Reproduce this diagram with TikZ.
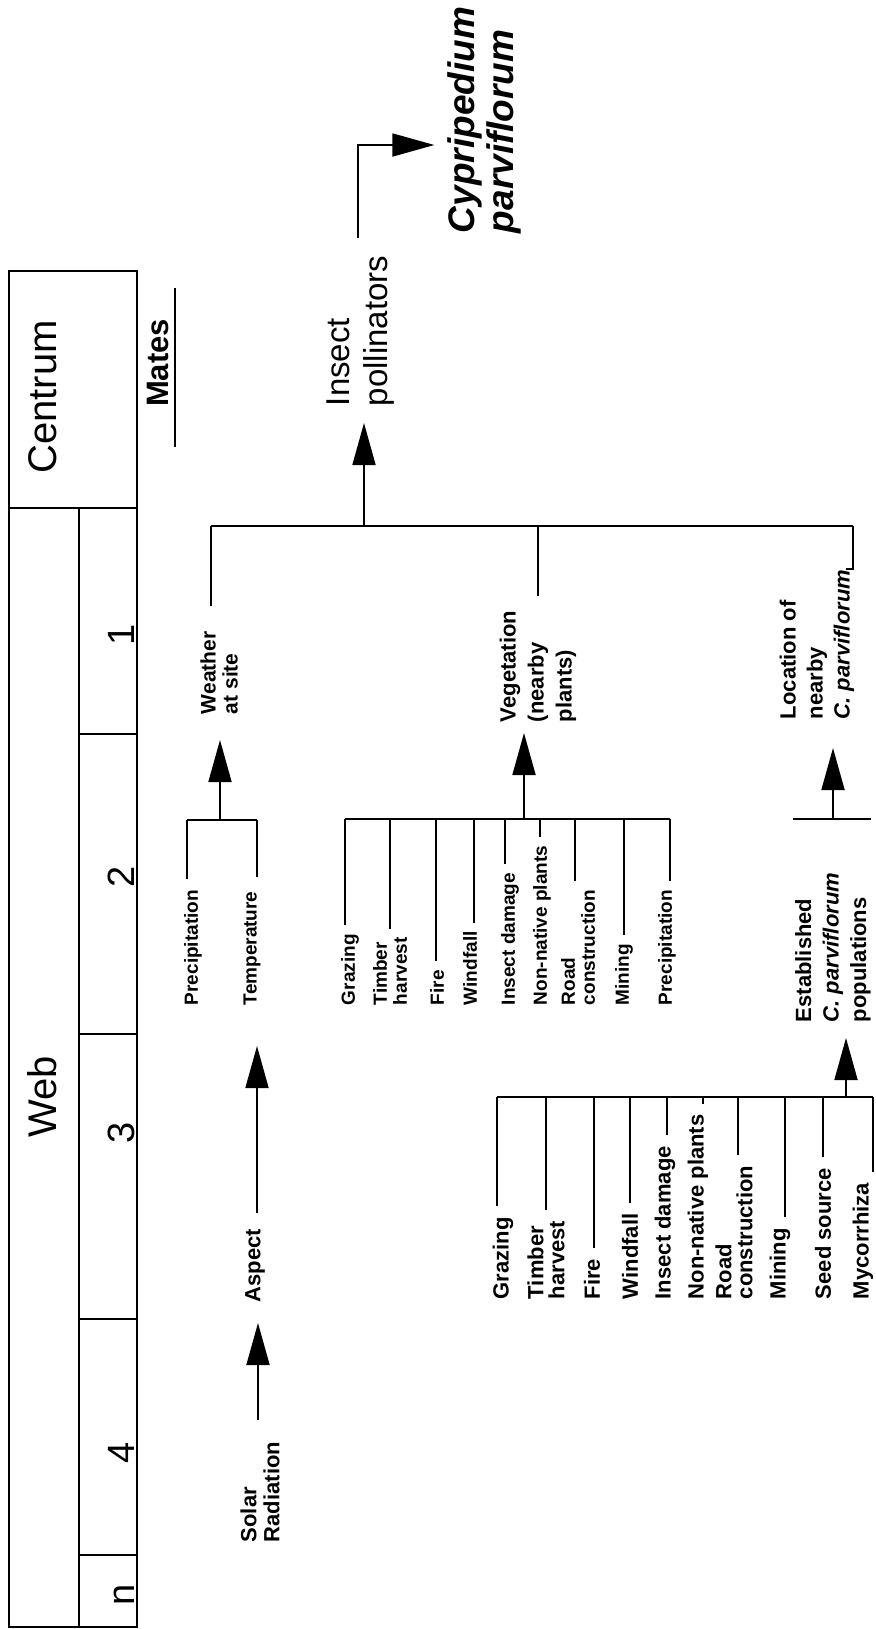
\documentclass[tikz,border=0pt]{standalone}
\usepackage{fontspec}
\setmainfont{Liberation Sans}
\usetikzlibrary{arrows.meta}

\tikzset{
  rot/.style={rotate=90, inner sep=0pt},
  lbl/.style={rot, anchor=west, align=left, font=\bfseries\fontsize{11}{13.5}\selectfont},
  leaf/.style={lbl, font=\bfseries\fontsize{9.5}{10}\selectfont},
  bigleaf/.style={lbl, font=\bfseries\fontsize{11}{10.5}\selectfont},
  scalelbl/.style={rot, anchor=base, font=\fontsize{20}{24}\selectfont},
  feeds/.style={-{Triangle[length=21pt,width=11.5pt]}},
}

\begin{document}
\begin{tikzpicture}[x=0.5pt, y=-0.5pt, line width=0.9pt]
  \useasboundingbox (0,0) rectangle (875,1629);

  % scale of the web
  \draw (9,271) rectangle (137,1627);
  \draw (9,508) -- (137,508);
  \draw (79,508) -- (79,1627);
  \foreach \y in {734,1034,1319,1555}
    \draw (79,\y) -- (137,\y);
  \node[scalelbl] (centrum) at (56,397) {Centrum};
  \node[scalelbl] (web) at (56,1097) {Web};
  \foreach \y/\cellno [count=\i] in {635/1,877/2,1133/3,1453/4,1595/n}
    \node[scalelbl, font=\fontsize{19}{23}\selectfont] (cell\i) at (134,\y) {\cellno};
  \node[scalelbl, font=\bfseries\fontsize{15.5}{18}\selectfont] (mates) at (168,363) {Mates};
  \draw (175,288) -- (175,447);

  % centrum: pollinators -> orchid
  \node[rot, anchor=west, align=left, font=\fontsize{16.5}{19}\selectfont] (insect) at (361,407) {Insect\\pollinators};
  \node[rot, anchor=west, align=left, font=\bfseries\itshape\fontsize{18.5}{19.5}\selectfont] (cyp) at (484,234) {Cypripedium\\parviflorum};
  \draw[feeds, shorten <=8.5pt, shorten >=6pt] (358,0 |- insect.east) |- (cyp.north |- 0,145);

  \coordinate (topbar) at (0,526);
  \draw (211,526) -- (853,526);
  \draw[feeds, shorten >=8pt] (364,0 |- topbar) -- (364,0 |- insect.west);

  % web 1
  \node[lbl, font=\bfseries\fontsize{10.5}{11}\selectfont] (weather) at (219,715) {Weather\\at site};
  \node[lbl, font=\bfseries\fontsize{11}{14}\selectfont] (veg) at (538,723) {Vegetation\\(nearby\\plants)};
  \node[lbl] (loc) at (817,720) {Location of\\nearby\\\textit{C. parviflorum}};
  \draw[shorten >=12.5pt] (211,0 |- topbar) -- (211,0 |- weather.east);
  \draw[shorten >=7pt] (538,0 |- topbar) -- (538,0 |- veg.east);
  \draw (853,0 |- topbar) -- (853,0 |- loc.east) -- ++(-7,0);

  % web 2: weather
  \coordinate (wbar) at (0,820);
  \draw (187,820) -- (257,820);
  \draw[feeds, shorten >=12.5pt] (220,0 |- wbar) -- (220,0 |- weather.west);
  \node[leaf] (precip) at (193,1006) {Precipitation};
  \node[leaf] (temp) at (252,1006) {Temperature};
  \draw[shorten >=5pt] (187,0 |- wbar) -- (187,0 |- precip.east);
  \draw[shorten >=7pt] (257,0 |- wbar) -- (257,0 |- temp.east);

  % web 3 and 4
  \node[lbl] (aspect) at (255,1303) {Aspect};
  \node[lbl, font=\bfseries\fontsize{11}{11.5}\selectfont] (solar) at (260,1543) {Solar\\Radiation};
  \draw[feeds, shorten <=7.5pt, shorten >=20pt] (257,0 |- aspect.east) -- (257,0 |- temp.west);
  \draw[feeds, shorten <=10.5pt, shorten >=10pt] (258,0 |- solar.east) -- (258,0 |- aspect.west);

  % web 2: vegetation
  \coordinate (vbar) at (0,819);
  \draw (345,819) -- (670,819);
  \draw[feeds, shorten >=5pt] (524,0 |- vbar) -- (524,0 |- veg.west);
  \foreach \lx/\tx/\txt [count=\i] in {345/350/Grazing, 390/390/{Timber\\harvest},
      436/437/Fire, 474/470/Windfall, 505/510/Insect damage, 540/542/Non-native plants,
      575/578/{Road\\construction}, 624/624/Mining, 670/667/Precipitation} {
    \node[leaf] (veg\i) at (\tx,1006) {\txt};
    \draw[shorten >=4pt] (\lx,0 |- vbar) -- (\lx,0 |- veg\i.east);
  }

  % web 2: nearby orchids
  \coordinate (lbar) at (0,819);
  \draw (793,819) -- (871,819);
  \draw[feeds, shorten >=14pt] (833,0 |- lbar) -- (833,0 |- loc.west);
  \node[lbl, font=\bfseries\fontsize{11}{13.75}\selectfont] (est) at (833,1023) {Established\\\textit{C. parviflorum}\\populations};

  \coordinate (ebar) at (0,1097);
  \draw (497,1097) -- (873,1097);
  \draw[feeds, shorten >=7.5pt] (846,0 |- ebar) -- (846,0 |- est.west);
  \foreach \lx/\tx/\txt [count=\i] in {497/503/Grazing, 546/546/{Timber\\harvest},
      594/592/Fire, 630/630/Windfall, 667/665/Insect damage, 703/698/Non-native plants,
      738/734/{Road\\construction}, 785/780/Mining, 823/823/Seed source, 873/863/Mycorrhiza} {
    \node[bigleaf] (est\i) at (\tx,1300) {\txt};
    \draw[shorten >=5pt] (\lx,0 |- ebar) -- (\lx,0 |- est\i.east);
  }
\end{tikzpicture}
\end{document}
